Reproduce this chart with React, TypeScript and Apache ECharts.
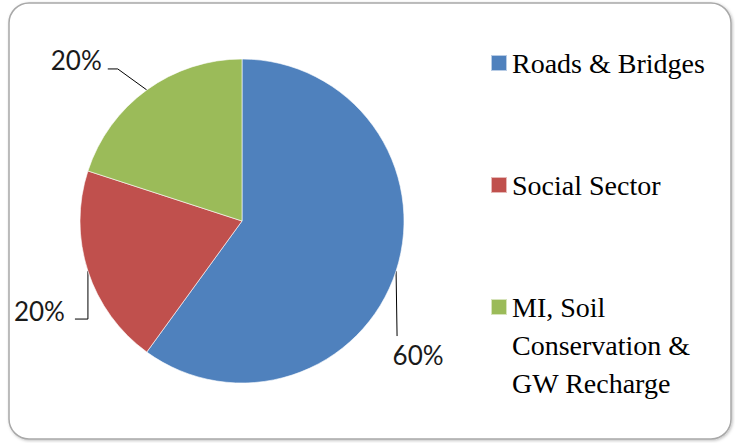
import React, { useEffect, useRef } from "react";
import * as echarts from "echarts";

const categories = ["Roads & Bridges", "Social Sector", "MI, Soil\nConservation &\nGW Recharge"];
const values = [60, 20, 20];
const labels = ["60%", "20%", "20%"];
const colors = ["#4F81BD", "#C0504D", "#9BBB59"];

export default function App() {
  const ref = useRef<HTMLDivElement>(null);
  useEffect(() => {
    if (!ref.current) return;
    const chart = echarts.init(ref.current, undefined, { renderer: "svg" });
    const legendBase = {
      orient: "vertical" as const,
      left: 490,
      padding: 0,
      itemWidth: 16,
      itemHeight: 16,
      icon: "rect",
      selectedMode: false,
      textStyle: {
        fontFamily: "'Liberation Serif', 'DejaVu Serif', serif",
        fontSize: 28,
        color: "#000",
        lineHeight: 38,
      },
      itemGap: 0,
    };
    const layout = [
      { dx: 22, dy: 84, align: "center", pts: [[1, 65]] },
      { dx: -23, dy: 40, align: "right", pts: [[0, 48], [-13, 48]] },
      { dx: -45, dy: -30, align: "right", pts: [[-29, -21], [-39, -21]] },
    ];
    chart.setOption({
      animation: false,
      graphic: [
        {
          type: "rect",
          shape: { x: 9, y: 3, width: 722, height: 436, r: 20 },
          style: {
            fill: "#fff",
            stroke: "#a8a8a8",
            lineWidth: 1.5,
            shadowBlur: 3,
            shadowOffsetX: 1,
            shadowOffsetY: 1,
            shadowColor: "rgba(0,0,0,0.25)",
          },
          z: -10,
          silent: true,
        },
      ],
      legend: [
        { ...legendBase, top: 44, data: [categories[0]] },
        { ...legendBase, top: 166, data: [categories[1]] },
        {
          ...legendBase,
          top: 212,
          data: [categories[2]],
          formatter: (name: string) => "\n\n" + name,
        },
      ],
      series: [
        {
          type: "pie",
          center: [242, 221],
          radius: 162,
          startAngle: 90,
          clockwise: true,
          avoidLabelOverlap: false,
          emphasis: { disabled: true },
          itemStyle: { borderColor: "rgba(255,255,255,0.6)", borderWidth: 1 },
          label: {
            show: true,
            position: "outside",
            formatter: (p: any) => labels[p.dataIndex],
            fontFamily: "Lato, 'Open Sans', sans-serif",
            fontSize: 26,
            color: "#1a1a1a",
          },
          labelLine: {
            show: true,
            length: 20,
            length2: 10,
            lineStyle: { color: "#000", width: 1 },
          },
          labelLayout: (params: any) => {
            const l = layout[params.dataIndex];
            const a = params.labelLinePoints ? params.labelLinePoints[0] : [0, 0];
            return {
              x: a[0] + l.dx,
              y: a[1] + l.dy,
              align: l.align,
              verticalAlign: "middle",
              labelLinePoints: [a, ...l.pts.map((p) => [a[0] + p[0], a[1] + p[1]])],
            };
          },
          data: categories.map((name, i) => ({
            name,
            value: values[i],
            itemStyle: { color: colors[i] },
          })),
        },
      ],
    });
    return () => chart.dispose();
  }, []);
  return (
    <div
      ref={ref}
      style={{ position: "fixed", left: 0, top: 0, width: 735, height: 443, background: "#fff" }}
    />
  );
}
